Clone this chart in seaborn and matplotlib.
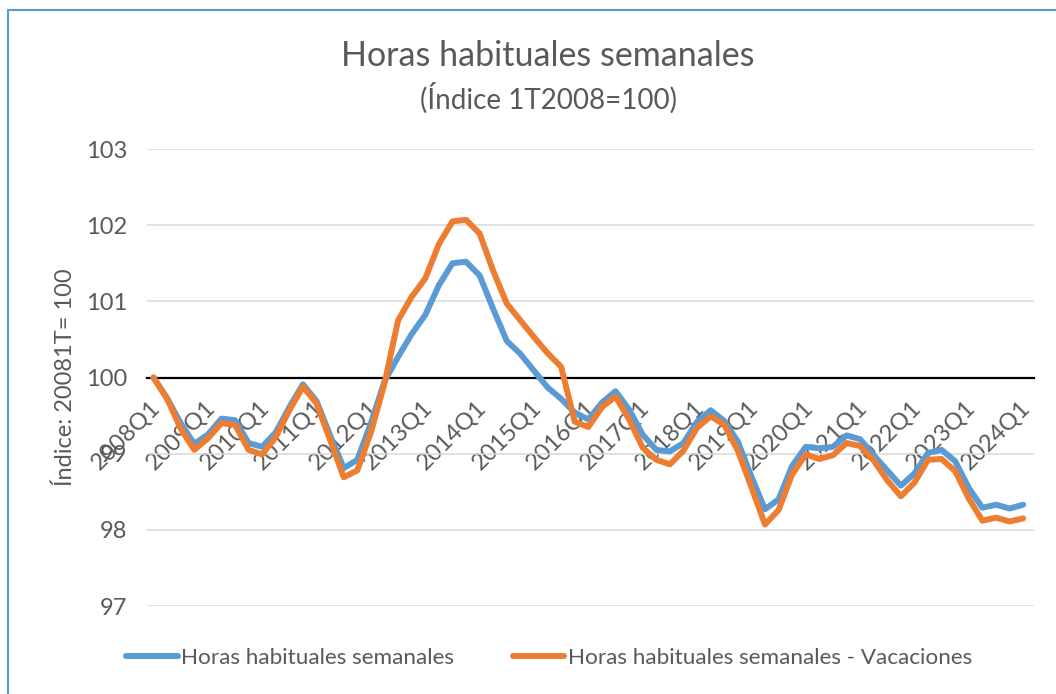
# Gráfico de horas habituales semanales (índice 1T2008=100) con Seaborn
import numpy as np
import pandas as pd
import seaborn as sns
import matplotlib.pyplot as plt
from matplotlib.patches import Rectangle

# ========================================
# 1. DATOS
# ========================================
trimestres = [f"{a}Q{q}" for a in range(2008, 2025) for q in range(1, 5)][:65]

horas = [
    100.00, 99.73, 99.40, 99.13, 99.25, 99.46, 99.44, 99.14, 99.09, 99.28,
    99.61, 99.91, 99.69, 99.24, 98.81, 98.92, 99.40, 99.95, 100.27, 100.57,
    100.82, 101.21, 101.50, 101.52, 101.34, 100.90, 100.48, 100.31, 100.09, 99.87,
    99.72, 99.54, 99.45, 99.67, 99.82, 99.58, 99.25, 99.05, 99.03, 99.14,
    99.42, 99.57, 99.43, 99.16, 98.70, 98.27, 98.40, 98.84, 99.09, 99.07,
    99.09, 99.24, 99.19, 98.98, 98.78, 98.58, 98.74, 99.01, 99.05, 98.90,
    98.55, 98.29, 98.33, 98.28, 98.33,
]

horas_vacaciones = [
    100.00, 99.72, 99.33, 99.05, 99.20, 99.40, 99.38, 99.05, 98.99, 99.22,
    99.57, 99.88, 99.66, 99.18, 98.69, 98.78, 99.28, 99.92, 100.75, 101.06,
    101.30, 101.75, 102.05, 102.07, 101.89, 101.40, 100.97, 100.75, 100.53, 100.32,
    100.14, 99.42, 99.35, 99.61, 99.75, 99.45, 99.08, 98.92, 98.86, 99.04,
    99.34, 99.49, 99.38, 99.04, 98.56, 98.07, 98.26, 98.73, 98.99, 98.93,
    98.98, 99.14, 99.10, 98.91, 98.65, 98.44, 98.62, 98.92, 98.93, 98.77,
    98.41, 98.12, 98.16, 98.11, 98.15,
]

series = ["Horas habituales semanales", "Horas habituales semanales - Vacaciones"]
colores = ["#5B9BD5", "#ED7D31"]
marcas_y = [97, 98, 99, 100, 101, 102, 103]

df = pd.DataFrame({
    "pos": list(range(len(trimestres))) * 2,
    "valor": horas + horas_vacaciones,
    "serie": [series[0]] * len(horas) + [series[1]] * len(horas_vacaciones),
})

# ========================================
# 2. ESTILO
# ========================================
sns.set_style("white")
plt.rcParams["font.family"] = ["Lato", "DejaVu Sans"]
gris = "#595959"

fig = plt.figure(figsize=(10.56, 6.94), dpi=100)
ax = fig.add_axes([0.1389, 0.1268, 0.8403, 0.6585])

# ========================================
# 3. LÍNEAS
# ========================================
sns.lineplot(data=df, x="pos", y="valor", hue="serie", palette=colores,
             linewidth=4.3, sort=False, ax=ax, legend=True)

ax.set_xlim(-0.5, len(trimestres) - 0.5)
ax.set_ylim(97, 103)
ax.set_yticks(marcas_y)
ax.tick_params(axis="y", labelsize=17, labelcolor=gris, length=0, pad=14)
ax.yaxis.grid(True, color="#D9D9D9", linewidth=1.1)
ax.set_axisbelow(True)

# eje de categorías cruzando en 100
for lado in ["left", "right", "top"]:
    ax.spines[lado].set_visible(False)
ax.spines["bottom"].set_position(("data", 100))
ax.spines["bottom"].set_color("black")
ax.spines["bottom"].set_linewidth(1.6)
ax.spines["bottom"].set_zorder(1.5)

ax.set_xticks(np.arange(-0.5, len(trimestres) - 1, 4))
ax.set_xticklabels([])
ax.set_xticks(np.arange(0, len(trimestres), 4) + 0.8,
              labels=trimestres[::4], minor=True, rotation=45, ha="right")
ax.tick_params(axis="x", which="major", direction="in", length=5,
               width=1.6, color="black")
ax.tick_params(axis="x", which="minor", length=0, pad=14,
               labelsize=17, labelcolor=gris)

ax.set_xlabel("")
ax.set_ylabel("Índice: 20081T= 100", fontsize=17, color=gris, labelpad=7)

# ========================================
# 4. TÍTULO, LEYENDA Y MARCO
# ========================================
fig.text(0.519, 1 - 56 / 694, "Horas habituales semanales",
         ha="center", va="center", fontsize=24.5, color=gris)
fig.text(0.519, 1 - 98 / 694, "(Índice 1T2008=100)",
         ha="center", va="center", fontsize=20, color=gris)

ax.legend(loc="center", bbox_to_anchor=(0.52, 0.052),
          bbox_transform=fig.transFigure, ncol=2, frameon=False,
          fontsize=16.2, labelcolor=gris, handlelength=2.3,
          handletextpad=0.15, columnspacing=2.6)

fig.patches.append(Rectangle((8 / 1056, -0.1), 1.2, 1.1 - 10 / 694,
                             transform=fig.transFigure, fill=False,
                             edgecolor="#5B9BD5", linewidth=1.5))

plt.savefig("out.png", dpi=100)
